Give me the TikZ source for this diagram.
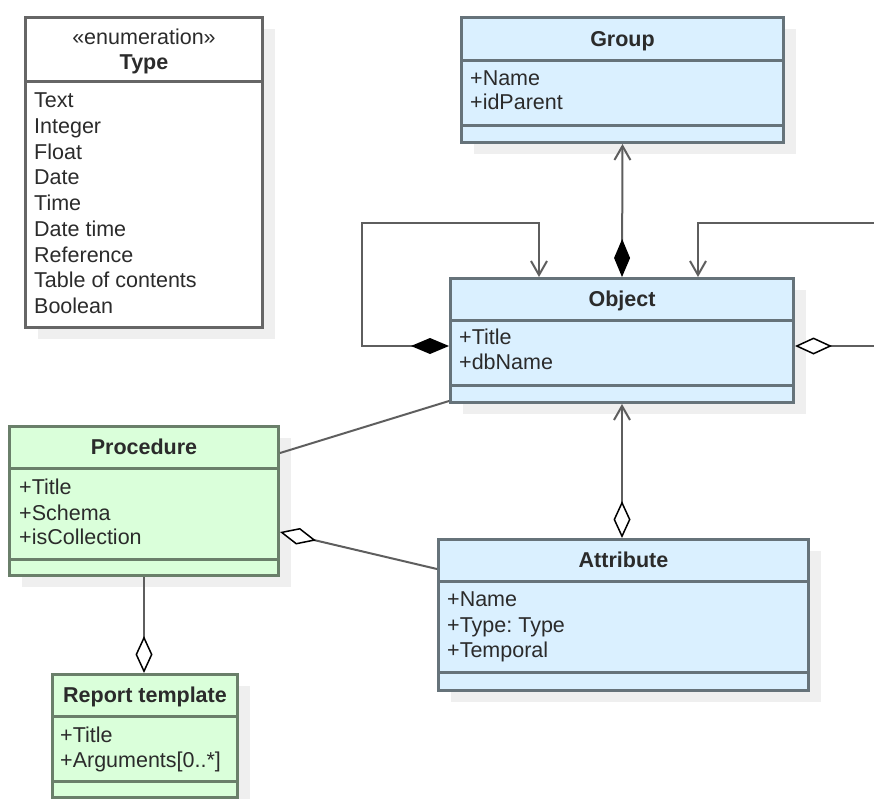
\documentclass[tikz,border=0pt]{standalone}
\usepackage{fontspec}
\setmainfont{Liberation Sans}
\usetikzlibrary{arrows.meta,calc,shadows}

\definecolor{bluefill}{HTML}{DAF0FF}
\definecolor{greenfill}{HTML}{DAFFDA}
\definecolor{blueline}{HTML}{66737A}
\definecolor{greenline}{HTML}{6A7F6A}
\definecolor{plainline}{HTML}{666666}
\definecolor{txt}{HTML}{2B2B2B}
\definecolor{wire}{HTML}{5E5E5E}
\definecolor{shade}{HTML}{EFEFEF}

% compartment separators: #1 node, #2 and #3 offsets from the top, #4 colour
\newcommand\compartments[4]{%
  \draw[#4, line width=3pt] ($(#1.north west)+(0,#2)$) -- ($(#1.north east)+(0,#2)$);
  \ifx&#3&\else
  \draw[#4, line width=3pt] ($(#1.north west)+(0,#3)$) -- ($(#1.north east)+(0,#3)$);
  \fi}

\frenchspacing
\begin{document}
\begin{tikzpicture}[x=1pt,y=-1pt,
  label text/.style={font=\fontsize{21.5}{25}\selectfont, text=txt, inner sep=0pt,
    text height=15.4pt, text depth=0pt},
  title/.style={label text, font=\fontsize{21.5}{25}\selectfont\bfseries},
  item/.style={label text, anchor=west},
  classbox/.style={draw, line width=3pt, inner sep=0pt, anchor=north west,
    drop shadow={shadow xshift=12pt, shadow yshift=-11pt, fill=shade, opacity=1}},
  blueclass/.style={classbox, draw=blueline, fill=bluefill},
  greenclass/.style={classbox, draw=greenline, fill=greenfill},
  plainclass/.style={classbox, draw=plainline, fill=white},
  wireline/.style={draw=wire, line width=2pt},
  barb/.tip={Straight Barb[length=14pt, width=16pt]},
  filleddia/.tip={Diamond[length=38pt, width=16pt, line width=1.5pt, color=black, fill=black]},
  opendia/.tip={Diamond[length=37pt, width=17pt, line width=1.5pt, color=black, fill=white]},
]
\useasboundingbox (0,0) rectangle (874,798);

% enumeration Type
\node[plainclass, minimum width=237pt, minimum height=310pt] (typ) at (24,16) {};
\compartments{typ}{65}{}{plainline}
\node[label text] at ($(typ.north)+(0,21)$) {«enumeration»};
\node[title] at ($(typ.north)+(0,46)$) {Type};
\foreach \t [count=\i from 0] in {Text,Integer,Float,Date,Time,Date time,Reference,Table of contents,Boolean}
  \node[item] at ($(typ.north west)+(10,84+25.75*\i)$) {\t};

% Group
\node[blueclass, minimum width=322pt, minimum height=125pt] (grp) at (460,16) {};
\compartments{grp}{44}{109}{blueline}
\node[title] at ($(grp.north)+(0,23)$) {Group};
\node[item] at ($(grp.north west)+(10,62)$) {+Name};
\node[item] at ($(grp.north west)+(10,86)$) {+idParent};

% Object
\node[blueclass, minimum width=343pt, minimum height=124pt] (obj) at (449,277) {};
\compartments{obj}{43}{108}{blueline}
\node[title] at ($(obj.north)+(0,21.5)$) {Object};
\node[item] at ($(obj.north west)+(10,60)$) {+Title};
\node[item] at ($(obj.north west)+(10,85)$) {+dbName};

% Procedure
\node[greenclass, minimum width=269pt, minimum height=149pt] (proc) at (8,425) {};
\compartments{proc}{43}{134}{greenline}
\node[title] at ($(proc.north)+(0,22)$) {Procedure};
\node[item] at ($(proc.north west)+(11,62)$) {+Title};
\node[item] at ($(proc.north west)+(11,88)$) {+Schema};
\node[item] at ($(proc.north west)+(11,112)$) {+isCollection};

% Attribute
\node[blueclass, minimum width=370pt, minimum height=151pt] (att) at (437,538) {};
\compartments{att}{43}{134}{blueline}
\node[title] at ($(att.north)+(0,22)$) {Attribute};
\node[item] at ($(att.north west)+(10,61)$) {+Name};
\node[item] at ($(att.north west)+(10,87)$) {+Type: Type};
\node[item] at ($(att.north west)+(10,112)$) {+Temporal};

% Report template
\node[greenclass, minimum width=185pt, minimum height=123pt] (rep) at (51,673) {};
\compartments{rep}{43}{108}{greenline}
\node[title] at ($(rep.north)+(0,22)$) {Report template};
\node[item] at ($(rep.north west)+(9,62)$) {+Title};
\node[item] at ($(rep.north west)+(9,87)$) {+Arguments[0..*]};

% connectors
\coordinate (loopL) at (362,223);
\coordinate (edgeA) at (874,346);
\coordinate (edgeB) at (874,223);

\draw[wireline, barb-filleddia] (grp.south) -- (obj.north);
\draw[wireline, barb-opendia] (obj.south) -- (obj.south |- att.north);
\draw[wireline, -opendia] (proc.south) -- (proc.south |- rep.north);
\draw[wireline] ($(obj.south west)+(0,-3)$) -- ($(proc.north east)+(0,28)$);
\draw[wireline, opendia-] ($(proc.north east)+(0,107)$) -- ($(att.north west)+(0,31)$);
\draw[wireline, filleddia-barb] ($(obj.north west)+(0,69)$) -| (loopL) -| ($(obj.north west)+(90,0)$);
\draw[wireline, opendia-] ($(obj.north east)+(0,69)$) -- (edgeA);
\draw[wireline, -barb] (edgeB) -| ($(obj.north west)+(249,0)$);
\end{tikzpicture}
\end{document}
